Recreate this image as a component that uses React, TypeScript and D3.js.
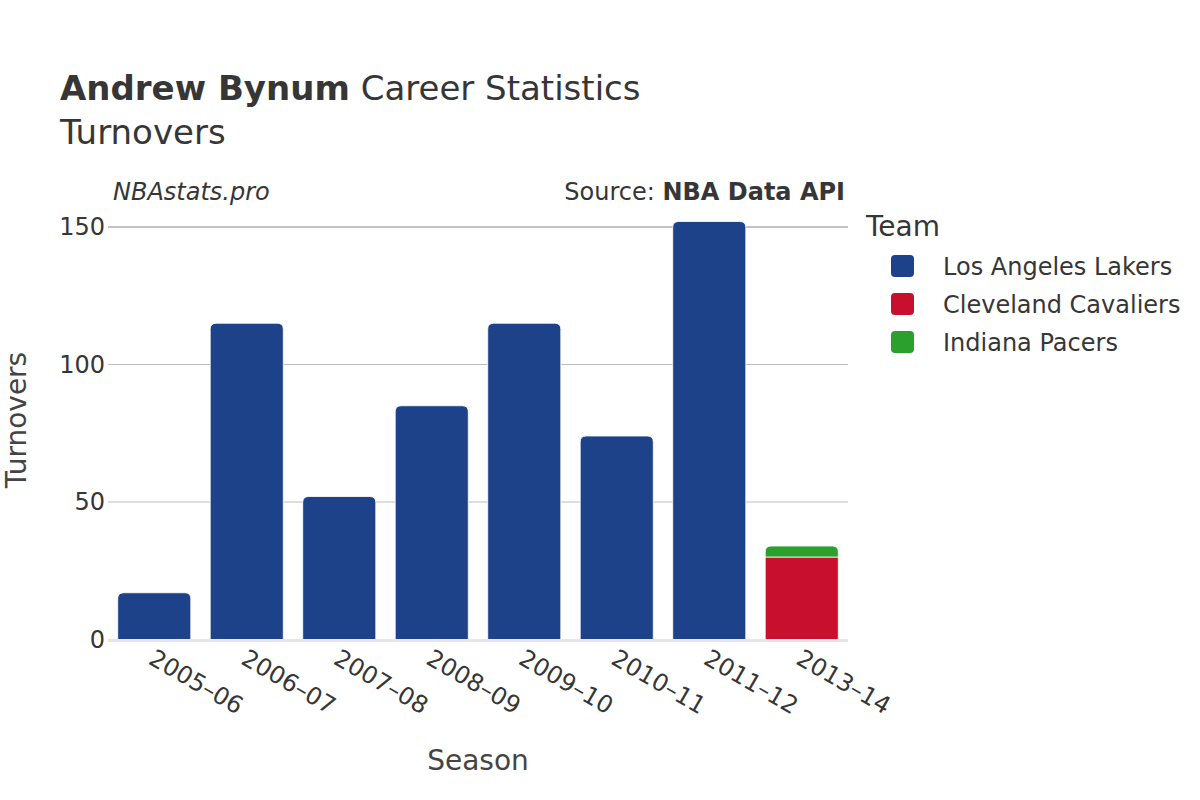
import React from "react";
import * as d3 from "d3";

const seasons = ["2005–06", "2006–07", "2007–08", "2008–09", "2009–10", "2010–11", "2011–12", "2013–14"];
const teams = ["Los Angeles Lakers", "Cleveland Cavaliers", "Indiana Pacers"];
const teamColors = ["#1d428a", "#c8102e", "#2ca02c"];
const lakers = [17, 115, 52, 85, 115, 74, 152, 0];
const cavaliers = [0, 0, 0, 0, 0, 0, 0, 30];
const pacers = [0, 0, 0, 0, 0, 0, 0, 4];
const yTicks = [0, 50, 100, 150];

const W = 1200, H = 800;
const left = 108, right = 848, top = 227, bottom = 639.5;
const FONT = "'DejaVu Sans', sans-serif";

function topRoundedRect(x: number, y: number, w: number, h: number, r: number) {
  const rr = Math.min(r, h, w / 2);
  return `M${x},${y + h}V${y + rr}Q${x},${y} ${x + rr},${y}H${x + w - rr}Q${x + w},${y} ${x + w},${y + rr}V${y + h}Z`;
}

export default function App() {
  const x = d3.scaleBand<string>().domain(seasons).range([left, right]).paddingInner(0.21).paddingOuter(0.105);
  const y = d3.scaleLinear().domain([0, 150]).range([bottom, top]);
  const series = [lakers, cavaliers, pacers];

  const rects: JSX.Element[] = [];
  seasons.forEach((s, i) => {
    let base = 0;
    const nonZero = series.map((v) => v[i]).map((v, k) => ({ v, k })).filter((d) => d.v > 0);
    nonZero.forEach((d, j) => {
      const y0 = y(base);
      const y1 = y(base + d.v);
      const isTop = j === nonZero.length - 1;
      const bx = x(s)!;
      const bw = x.bandwidth();
      rects.push(
        <path
          key={`${s}-${d.k}`}
          d={isTop ? topRoundedRect(bx, y1, bw, y0 - y1, 6) : `M${bx},${y0}V${y1}H${bx + bw}V${y0}Z`}
          fill={teamColors[d.k]}
          stroke="#ffffff"
          strokeWidth={0.8}
        />
      );
      base += d.v;
    });
  });

  return (
    <svg width={W} height={H} style={{ display: "block", position: "absolute", left: 0, top: 0 }} fontFamily={FONT}>
      <rect width={W} height={H} fill="#ffffff" />
      <text x={60} y={100} fontSize={34} fill="#363636">
        <tspan fontWeight="bold">Andrew Bynum</tspan>
        <tspan> Career Statistics</tspan>
      </text>
      <text x={60} y={144} fontSize={34} fill="#363636">Turnovers</text>
      <text x={113} y={200} fontSize={24} fontStyle="italic" fill="#363636">NBAstats.pro</text>
      <text x={845} y={200} fontSize={24} textAnchor="end" fill="#363636">
        <tspan>Source: </tspan>
        <tspan fontWeight="bold">NBA Data API</tspan>
      </text>

      {yTicks.filter((t) => t > 0).map((t) => (
        <line key={t} x1={left} x2={right} y1={y(t)} y2={y(t)} stroke={t === 150 ? "#888" : "#bdbdbd"} strokeWidth={1} />
      ))}
      <line x1={left} x2={right} y1={bottom + 1} y2={bottom + 1} stroke="#e6e6e6" strokeWidth={3} />
      {yTicks.map((t) => (
        <text key={t} x={105} y={y(t) + 8} fontSize={24} textAnchor="end" fill="#363636">{t}</text>
      ))}

      {rects}

      {seasons.map((s) => {
        const cx = x(s)! + x.bandwidth() / 2;
        return (
          <text key={s} transform={`translate(${cx - 7},${663}) rotate(30)`} fontSize={24} fill="#363636" textAnchor="start">
            {s}
          </text>
        );
      })}

      <text x={478} y={770} fontSize={28} textAnchor="middle" fill="#444">Season</text>
      <text transform={`translate(26,420) rotate(-90)`} fontSize={28} textAnchor="middle" fill="#444">Turnovers</text>

      <text x={866} y={236} fontSize={28} fill="#363636">Team</text>
      {teams.map((t, i) => (
        <g key={t} transform={`translate(0,${i * 38})`}>
          <rect x={891} y={255} width={23} height={22} rx={4} fill={teamColors[i]} />
          <text x={943} y={275} fontSize={24} fill="#363636">{t}</text>
        </g>
      ))}
    </svg>
  );
}
